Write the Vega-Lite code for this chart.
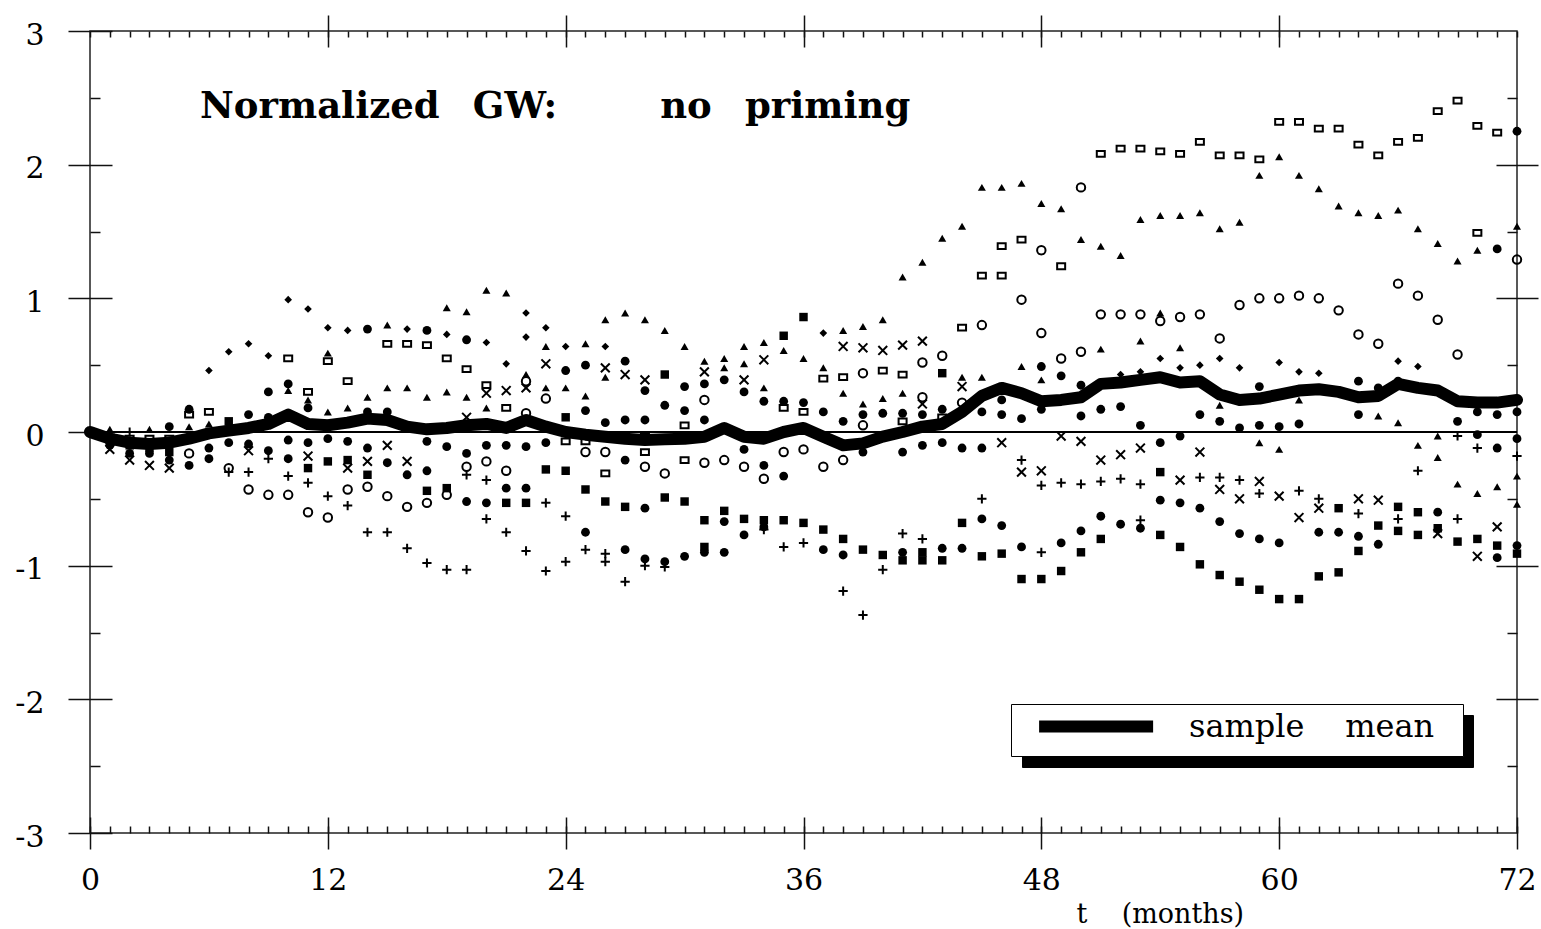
{
"$schema":"https://vega.github.io/schema/vega-lite/v6.json",
"width":1427,"height":802,
"autosize":{"type":"none"},
"padding":{"left":90,"top":31,"right":24,"bottom":96},
"background":"white",
"view":{"stroke":"#222","strokeWidth":1.5},
"config":{"axis":{"grid":false,"domain":false,"tickColor":"#111","tickWidth":1.5,"labelColor":"black","labelFont":"DejaVu Serif","labelFontSize":30,"titleFont":"DejaVu Serif","titleColor":"black","labelFlush":false,"labelOverlap":false,"labelBound":false}},
"title":{"text":"Normalized\u00a0\u00a0\u2009GW:\u00a0\u00a0\u00a0\u00a0\u00a0\u00a0\u00a0\u00a0no\u00a0\u00a0\u2009priming","anchor":"start","frame":"group","font":"DejaVu Serif","fontWeight":"bold","fontSize":37,"color":"black","dx":110,"offset":-141,"baseline":"alphabetic"},
"datasets":{
"mean":[{"t":0,"v":0,"series":"sample mean"},{"t":1,"v":-0.05,"series":"sample mean"},{"t":2,"v":-0.08,"series":"sample mean"},{"t":3,"v":-0.09,"series":"sample mean"},{"t":4,"v":-0.08,"series":"sample mean"},{"t":5,"v":-0.05,"series":"sample mean"},{"t":6,"v":-0.01,"series":"sample mean"},{"t":7,"v":0.01,"series":"sample mean"},{"t":8,"v":0.03,"series":"sample mean"},{"t":9,"v":0.06,"series":"sample mean"},{"t":10,"v":0.13,"series":"sample mean"},{"t":11,"v":0.06,"series":"sample mean"},{"t":12,"v":0.05,"series":"sample mean"},{"t":13,"v":0.07,"series":"sample mean"},{"t":14,"v":0.1,"series":"sample mean"},{"t":15,"v":0.09,"series":"sample mean"},{"t":16,"v":0.04,"series":"sample mean"},{"t":17,"v":0.02,"series":"sample mean"},{"t":18,"v":0.03,"series":"sample mean"},{"t":19,"v":0.05,"series":"sample mean"},{"t":20,"v":0.06,"series":"sample mean"},{"t":21,"v":0.03,"series":"sample mean"},{"t":22,"v":0.09,"series":"sample mean"},{"t":23,"v":0.04,"series":"sample mean"},{"t":24,"v":0.0,"series":"sample mean"},{"t":25,"v":-0.02,"series":"sample mean"},{"t":26,"v":-0.035,"series":"sample mean"},{"t":27,"v":-0.05,"series":"sample mean"},{"t":28,"v":-0.06,"series":"sample mean"},{"t":29,"v":-0.055,"series":"sample mean"},{"t":30,"v":-0.05,"series":"sample mean"},{"t":31,"v":-0.035,"series":"sample mean"},{"t":32,"v":0.03,"series":"sample mean"},{"t":33,"v":-0.035,"series":"sample mean"},{"t":34,"v":-0.05,"series":"sample mean"},{"t":35,"v":0.0,"series":"sample mean"},{"t":36,"v":0.03,"series":"sample mean"},{"t":37,"v":-0.035,"series":"sample mean"},{"t":38,"v":-0.1,"series":"sample mean"},{"t":39,"v":-0.085,"series":"sample mean"},{"t":40,"v":-0.035,"series":"sample mean"},{"t":41,"v":0.0,"series":"sample mean"},{"t":42,"v":0.04,"series":"sample mean"},{"t":43,"v":0.06,"series":"sample mean"},{"t":44,"v":0.15,"series":"sample mean"},{"t":45,"v":0.27,"series":"sample mean"},{"t":46,"v":0.33,"series":"sample mean"},{"t":47,"v":0.29,"series":"sample mean"},{"t":48,"v":0.23,"series":"sample mean"},{"t":49,"v":0.24,"series":"sample mean"},{"t":50,"v":0.26,"series":"sample mean"},{"t":51,"v":0.36,"series":"sample mean"},{"t":52,"v":0.37,"series":"sample mean"},{"t":53,"v":0.39,"series":"sample mean"},{"t":54,"v":0.41,"series":"sample mean"},{"t":55,"v":0.37,"series":"sample mean"},{"t":56,"v":0.38,"series":"sample mean"},{"t":57,"v":0.28,"series":"sample mean"},{"t":58,"v":0.24,"series":"sample mean"},{"t":59,"v":0.25,"series":"sample mean"},{"t":60,"v":0.28,"series":"sample mean"},{"t":61,"v":0.31,"series":"sample mean"},{"t":62,"v":0.32,"series":"sample mean"},{"t":63,"v":0.3,"series":"sample mean"},{"t":64,"v":0.26,"series":"sample mean"},{"t":65,"v":0.27,"series":"sample mean"},{"t":66,"v":0.36,"series":"sample mean"},{"t":67,"v":0.33,"series":"sample mean"},{"t":68,"v":0.31,"series":"sample mean"},{"t":69,"v":0.23,"series":"sample mean"},{"t":70,"v":0.22,"series":"sample mean"},{"t":71,"v":0.22,"series":"sample mean"},{"t":72,"v":0.24,"series":"sample mean"}],
"zero":[{"t":0,"v":0,"series":"zero"},{"t":72,"v":0,"series":"zero"}],
"pts":[
{"t":1,"v":-0.04,"s":"sq"},{"t":1,"v":-0.1,"s":"do"},{"t":1,"v":-0.13,"s":"x"},{"t":1,"v":0.02,"s":"tr"},{"t":1,"v":-0.08,"s":"pl"},
{"t":2,"v":-0.05,"s":"sq"},{"t":2,"v":-0.16,"s":"do"},{"t":2,"v":-0.21,"s":"x"},{"t":2,"v":0.0,"s":"pl"},{"t":2,"v":-0.1,"s":"fs"},
{"t":3,"v":-0.05,"s":"sq"},{"t":3,"v":-0.16,"s":"do"},{"t":3,"v":-0.25,"s":"x"},{"t":3,"v":-0.12,"s":"fs"},{"t":3,"v":0.02,"s":"tr"},
{"t":4,"v":0.04,"s":"do"},{"t":4,"v":-0.05,"s":"sq"},{"t":4,"v":-0.21,"s":"do"},{"t":4,"v":-0.27,"s":"x"},{"t":4,"v":-0.15,"s":"fs"},
{"t":5,"v":0.17,"s":"do"},{"t":5,"v":0.13,"s":"sq"},{"t":5,"v":0.04,"s":"tr"},{"t":5,"v":-0.16,"s":"ci"},{"t":5,"v":-0.25,"s":"do"},
{"t":6,"v":0.46,"s":"di"},{"t":6,"v":0.15,"s":"sq"},{"t":6,"v":0.06,"s":"tr"},{"t":6,"v":-0.12,"s":"do"},{"t":6,"v":-0.2,"s":"do"},
{"t":7,"v":0.6,"s":"di"},{"t":7,"v":0.08,"s":"fs"},{"t":7,"v":-0.08,"s":"do"},{"t":7,"v":-0.27,"s":"ci"},{"t":7,"v":-0.3,"s":"pl"},
{"t":8,"v":0.66,"s":"di"},{"t":8,"v":0.13,"s":"do"},{"t":8,"v":-0.09,"s":"do"},{"t":8,"v":-0.14,"s":"x"},{"t":8,"v":-0.3,"s":"pl"},{"t":8,"v":-0.43,"s":"ci"},
{"t":9,"v":0.57,"s":"di"},{"t":9,"v":0.3,"s":"do"},{"t":9,"v":0.11,"s":"do"},{"t":9,"v":-0.14,"s":"do"},{"t":9,"v":-0.2,"s":"pl"},{"t":9,"v":-0.47,"s":"ci"},
{"t":10,"v":0.99,"s":"di"},{"t":10,"v":0.55,"s":"sq"},{"t":10,"v":0.36,"s":"do"},{"t":10,"v":0.31,"s":"tr"},{"t":10,"v":-0.06,"s":"do"},{"t":10,"v":-0.2,"s":"do"},{"t":10,"v":-0.33,"s":"pl"},{"t":10,"v":-0.47,"s":"ci"},
{"t":11,"v":0.92,"s":"di"},{"t":11,"v":0.3,"s":"sq"},{"t":11,"v":0.24,"s":"tr"},{"t":11,"v":0.18,"s":"do"},{"t":11,"v":-0.08,"s":"do"},{"t":11,"v":-0.18,"s":"x"},{"t":11,"v":-0.27,"s":"fs"},{"t":11,"v":-0.38,"s":"pl"},{"t":11,"v":-0.6,"s":"ci"},
{"t":12,"v":0.78,"s":"di"},{"t":12,"v":0.59,"s":"tr"},{"t":12,"v":0.53,"s":"sq"},{"t":12,"v":0.15,"s":"tr"},{"t":12,"v":-0.05,"s":"do"},{"t":12,"v":-0.22,"s":"fs"},{"t":12,"v":-0.48,"s":"pl"},{"t":12,"v":-0.64,"s":"ci"},
{"t":13,"v":0.76,"s":"di"},{"t":13,"v":0.38,"s":"sq"},{"t":13,"v":0.18,"s":"tr"},{"t":13,"v":-0.07,"s":"do"},{"t":13,"v":-0.21,"s":"fs"},{"t":13,"v":-0.27,"s":"x"},{"t":13,"v":-0.43,"s":"ci"},{"t":13,"v":-0.55,"s":"pl"},
{"t":14,"v":0.77,"s":"do"},{"t":14,"v":0.26,"s":"tr"},{"t":14,"v":0.15,"s":"do"},{"t":14,"v":-0.12,"s":"do"},{"t":14,"v":-0.22,"s":"x"},{"t":14,"v":-0.32,"s":"fs"},{"t":14,"v":-0.41,"s":"ci"},{"t":14,"v":-0.75,"s":"pl"},
{"t":15,"v":0.8,"s":"tr"},{"t":15,"v":0.66,"s":"sq"},{"t":15,"v":0.33,"s":"tr"},{"t":15,"v":0.15,"s":"do"},{"t":15,"v":-0.1,"s":"x"},{"t":15,"v":-0.23,"s":"do"},{"t":15,"v":-0.48,"s":"ci"},{"t":15,"v":-0.75,"s":"pl"},
{"t":16,"v":0.77,"s":"di"},{"t":16,"v":0.66,"s":"sq"},{"t":16,"v":0.33,"s":"tr"},{"t":16,"v":0.05,"s":"do"},{"t":16,"v":-0.22,"s":"x"},{"t":16,"v":-0.32,"s":"do"},{"t":16,"v":-0.56,"s":"ci"},{"t":16,"v":-0.87,"s":"pl"},
{"t":17,"v":0.76,"s":"do"},{"t":17,"v":0.65,"s":"sq"},{"t":17,"v":0.26,"s":"tr"},{"t":17,"v":-0.07,"s":"do"},{"t":17,"v":-0.29,"s":"do"},{"t":17,"v":-0.44,"s":"fs"},{"t":17,"v":-0.53,"s":"ci"},{"t":17,"v":-0.98,"s":"pl"},
{"t":18,"v":0.93,"s":"tr"},{"t":18,"v":0.73,"s":"di"},{"t":18,"v":0.55,"s":"sq"},{"t":18,"v":0.3,"s":"tr"},{"t":18,"v":-0.11,"s":"do"},{"t":18,"v":-0.42,"s":"fs"},{"t":18,"v":-0.47,"s":"ci"},{"t":18,"v":-1.03,"s":"pl"},
{"t":19,"v":0.9,"s":"tr"},{"t":19,"v":0.69,"s":"do"},{"t":19,"v":0.47,"s":"sq"},{"t":19,"v":0.26,"s":"tr"},{"t":19,"v":0.11,"s":"x"},{"t":19,"v":-0.16,"s":"do"},{"t":19,"v":-0.26,"s":"ci"},{"t":19,"v":-0.32,"s":"pl"},{"t":19,"v":-0.52,"s":"do"},{"t":19,"v":-1.03,"s":"pl"},
{"t":20,"v":1.06,"s":"tr"},{"t":20,"v":0.67,"s":"di"},{"t":20,"v":0.35,"s":"sq"},{"t":20,"v":0.29,"s":"x"},{"t":20,"v":0.18,"s":"tr"},{"t":20,"v":-0.1,"s":"do"},{"t":20,"v":-0.22,"s":"ci"},{"t":20,"v":-0.36,"s":"pl"},{"t":20,"v":-0.53,"s":"do"},{"t":20,"v":-0.65,"s":"pl"},
{"t":21,"v":1.04,"s":"tr"},{"t":21,"v":0.51,"s":"di"},{"t":21,"v":0.31,"s":"x"},{"t":21,"v":0.18,"s":"sq"},{"t":21,"v":-0.1,"s":"do"},{"t":21,"v":-0.29,"s":"ci"},{"t":21,"v":-0.42,"s":"do"},{"t":21,"v":-0.53,"s":"fs"},{"t":21,"v":-0.75,"s":"pl"},
{"t":22,"v":0.89,"s":"di"},{"t":22,"v":0.71,"s":"di"},{"t":22,"v":0.43,"s":"tr"},{"t":22,"v":0.38,"s":"ci"},{"t":22,"v":0.33,"s":"x"},{"t":22,"v":0.14,"s":"ci"},{"t":22,"v":-0.11,"s":"do"},{"t":22,"v":-0.42,"s":"do"},{"t":22,"v":-0.53,"s":"fs"},{"t":22,"v":-0.89,"s":"pl"},
{"t":23,"v":0.78,"s":"di"},{"t":23,"v":0.64,"s":"tr"},{"t":23,"v":0.51,"s":"x"},{"t":23,"v":0.33,"s":"tr"},{"t":23,"v":0.25,"s":"ci"},{"t":23,"v":-0.08,"s":"do"},{"t":23,"v":-0.28,"s":"fs"},{"t":23,"v":-0.53,"s":"pl"},{"t":23,"v":-1.04,"s":"pl"},
{"t":24,"v":0.64,"s":"di"},{"t":24,"v":0.46,"s":"do"},{"t":24,"v":0.33,"s":"tr"},{"t":24,"v":0.11,"s":"fs"},{"t":24,"v":-0.07,"s":"sq"},{"t":24,"v":-0.29,"s":"fs"},{"t":24,"v":-0.63,"s":"pl"},{"t":24,"v":-0.97,"s":"pl"},
{"t":25,"v":0.66,"s":"tr"},{"t":25,"v":0.5,"s":"do"},{"t":25,"v":0.27,"s":"tr"},{"t":25,"v":0.16,"s":"do"},{"t":25,"v":-0.07,"s":"sq"},{"t":25,"v":-0.15,"s":"ci"},{"t":25,"v":-0.43,"s":"fs"},{"t":25,"v":-0.75,"s":"do"},{"t":25,"v":-0.88,"s":"pl"},
{"t":26,"v":0.84,"s":"tr"},{"t":26,"v":0.64,"s":"di"},{"t":26,"v":0.48,"s":"x"},{"t":26,"v":0.41,"s":"tr"},{"t":26,"v":0.07,"s":"do"},{"t":26,"v":-0.15,"s":"ci"},{"t":26,"v":-0.31,"s":"sq"},{"t":26,"v":-0.52,"s":"fs"},{"t":26,"v":-0.91,"s":"pl"},{"t":26,"v":-0.97,"s":"pl"},
{"t":27,"v":0.89,"s":"tr"},{"t":27,"v":0.53,"s":"do"},{"t":27,"v":0.43,"s":"x"},{"t":27,"v":0.09,"s":"do"},{"t":27,"v":-0.21,"s":"do"},{"t":27,"v":-0.56,"s":"fs"},{"t":27,"v":-0.88,"s":"do"},{"t":27,"v":-1.12,"s":"pl"},
{"t":28,"v":0.84,"s":"tr"},{"t":28,"v":0.39,"s":"x"},{"t":28,"v":0.31,"s":"do"},{"t":28,"v":0.09,"s":"do"},{"t":28,"v":-0.03,"s":"sq"},{"t":28,"v":-0.15,"s":"sq"},{"t":28,"v":-0.26,"s":"ci"},{"t":28,"v":-0.57,"s":"do"},{"t":28,"v":-0.95,"s":"do"},{"t":28,"v":-1.0,"s":"pl"},
{"t":29,"v":0.76,"s":"tr"},{"t":29,"v":0.43,"s":"fs"},{"t":29,"v":0.2,"s":"do"},{"t":29,"v":-0.31,"s":"ci"},{"t":29,"v":-0.49,"s":"fs"},{"t":29,"v":-0.97,"s":"do"},{"t":29,"v":-1.01,"s":"pl"},
{"t":30,"v":0.64,"s":"tr"},{"t":30,"v":0.34,"s":"do"},{"t":30,"v":0.16,"s":"do"},{"t":30,"v":0.05,"s":"sq"},{"t":30,"v":-0.21,"s":"sq"},{"t":30,"v":-0.52,"s":"fs"},{"t":30,"v":-0.93,"s":"do"},
{"t":31,"v":0.53,"s":"tr"},{"t":31,"v":0.45,"s":"x"},{"t":31,"v":0.36,"s":"do"},{"t":31,"v":0.24,"s":"ci"},{"t":31,"v":0.09,"s":"do"},{"t":31,"v":-0.23,"s":"ci"},{"t":31,"v":-0.66,"s":"fs"},{"t":31,"v":-0.86,"s":"fs"},{"t":31,"v":-0.9,"s":"do"},
{"t":32,"v":0.55,"s":"tr"},{"t":32,"v":0.48,"s":"tr"},{"t":32,"v":0.39,"s":"do"},{"t":32,"v":-0.21,"s":"ci"},{"t":32,"v":-0.59,"s":"fs"},{"t":32,"v":-0.67,"s":"do"},{"t":32,"v":-0.9,"s":"do"},
{"t":33,"v":0.64,"s":"tr"},{"t":33,"v":0.51,"s":"tr"},{"t":33,"v":0.39,"s":"x"},{"t":33,"v":0.3,"s":"do"},{"t":33,"v":-0.13,"s":"do"},{"t":33,"v":-0.26,"s":"ci"},{"t":33,"v":-0.65,"s":"fs"},{"t":33,"v":-0.77,"s":"do"},
{"t":34,"v":0.67,"s":"tr"},{"t":34,"v":0.54,"s":"x"},{"t":34,"v":0.33,"s":"tr"},{"t":34,"v":0.23,"s":"do"},{"t":34,"v":-0.25,"s":"do"},{"t":34,"v":-0.35,"s":"ci"},{"t":34,"v":-0.66,"s":"fs"},{"t":34,"v":-0.71,"s":"do"},{"t":34,"v":-0.73,"s":"pl"},
{"t":35,"v":0.72,"s":"fs"},{"t":35,"v":0.61,"s":"tr"},{"t":35,"v":0.23,"s":"do"},{"t":35,"v":0.18,"s":"sq"},{"t":35,"v":-0.15,"s":"ci"},{"t":35,"v":-0.33,"s":"do"},{"t":35,"v":-0.66,"s":"fs"},{"t":35,"v":-0.86,"s":"pl"},
{"t":36,"v":0.86,"s":"fs"},{"t":36,"v":0.55,"s":"tr"},{"t":36,"v":0.22,"s":"do"},{"t":36,"v":0.15,"s":"sq"},{"t":36,"v":-0.13,"s":"ci"},{"t":36,"v":-0.68,"s":"fs"},{"t":36,"v":-0.83,"s":"pl"},
{"t":37,"v":0.74,"s":"di"},{"t":37,"v":0.48,"s":"tr"},{"t":37,"v":0.4,"s":"sq"},{"t":37,"v":0.15,"s":"do"},{"t":37,"v":-0.26,"s":"ci"},{"t":37,"v":-0.73,"s":"fs"},{"t":37,"v":-0.88,"s":"do"},
{"t":38,"v":0.76,"s":"tr"},{"t":38,"v":0.64,"s":"x"},{"t":38,"v":0.41,"s":"sq"},{"t":38,"v":0.29,"s":"tr"},{"t":38,"v":0.08,"s":"do"},{"t":38,"v":-0.21,"s":"ci"},{"t":38,"v":-0.8,"s":"fs"},{"t":38,"v":-0.92,"s":"do"},{"t":38,"v":-1.19,"s":"pl"},
{"t":39,"v":0.79,"s":"tr"},{"t":39,"v":0.63,"s":"x"},{"t":39,"v":0.44,"s":"ci"},{"t":39,"v":0.21,"s":"tr"},{"t":39,"v":0.13,"s":"do"},{"t":39,"v":0.05,"s":"ci"},{"t":39,"v":-0.15,"s":"do"},{"t":39,"v":-0.88,"s":"fs"},{"t":39,"v":-1.37,"s":"pl"},
{"t":40,"v":0.84,"s":"tr"},{"t":40,"v":0.61,"s":"x"},{"t":40,"v":0.46,"s":"sq"},{"t":40,"v":0.25,"s":"tr"},{"t":40,"v":0.14,"s":"do"},{"t":40,"v":-0.92,"s":"fs"},{"t":40,"v":-1.03,"s":"pl"},
{"t":41,"v":1.16,"s":"tr"},{"t":41,"v":0.65,"s":"x"},{"t":41,"v":0.43,"s":"sq"},{"t":41,"v":0.29,"s":"tr"},{"t":41,"v":0.14,"s":"do"},{"t":41,"v":0.08,"s":"sq"},{"t":41,"v":-0.15,"s":"do"},{"t":41,"v":-0.76,"s":"pl"},{"t":41,"v":-0.9,"s":"do"},{"t":41,"v":-0.96,"s":"fs"},
{"t":42,"v":1.27,"s":"tr"},{"t":42,"v":0.68,"s":"x"},{"t":42,"v":0.52,"s":"ci"},{"t":42,"v":0.26,"s":"ci"},{"t":42,"v":0.21,"s":"x"},{"t":42,"v":0.13,"s":"do"},{"t":42,"v":-0.1,"s":"do"},{"t":42,"v":-0.8,"s":"pl"},{"t":42,"v":-0.9,"s":"fs"},{"t":42,"v":-0.96,"s":"fs"},
{"t":43,"v":1.45,"s":"tr"},{"t":43,"v":0.57,"s":"ci"},{"t":43,"v":0.44,"s":"fs"},{"t":43,"v":0.17,"s":"do"},{"t":43,"v":0.11,"s":"sq"},{"t":43,"v":-0.08,"s":"do"},{"t":43,"v":-0.87,"s":"do"},{"t":43,"v":-0.96,"s":"fs"},
{"t":44,"v":1.54,"s":"tr"},{"t":44,"v":0.78,"s":"sq"},{"t":44,"v":0.41,"s":"tr"},{"t":44,"v":0.34,"s":"x"},{"t":44,"v":0.22,"s":"ci"},{"t":44,"v":-0.12,"s":"do"},{"t":44,"v":-0.68,"s":"fs"},{"t":44,"v":-0.87,"s":"do"},
{"t":45,"v":1.83,"s":"tr"},{"t":45,"v":1.17,"s":"sq"},{"t":45,"v":0.8,"s":"ci"},{"t":45,"v":0.41,"s":"tr"},{"t":45,"v":0.15,"s":"do"},{"t":45,"v":-0.12,"s":"do"},{"t":45,"v":-0.5,"s":"pl"},{"t":45,"v":-0.65,"s":"do"},{"t":45,"v":-0.93,"s":"fs"},
{"t":46,"v":1.83,"s":"tr"},{"t":46,"v":1.39,"s":"sq"},{"t":46,"v":1.17,"s":"sq"},{"t":46,"v":0.24,"s":"do"},{"t":46,"v":0.13,"s":"do"},{"t":46,"v":-0.08,"s":"x"},{"t":46,"v":-0.7,"s":"do"},{"t":46,"v":-0.91,"s":"fs"},
{"t":47,"v":1.86,"s":"tr"},{"t":47,"v":1.44,"s":"sq"},{"t":47,"v":0.99,"s":"ci"},{"t":47,"v":0.49,"s":"tr"},{"t":47,"v":0.1,"s":"do"},{"t":47,"v":-0.21,"s":"pl"},{"t":47,"v":-0.3,"s":"x"},{"t":47,"v":-0.86,"s":"do"},{"t":47,"v":-1.1,"s":"fs"},
{"t":48,"v":1.71,"s":"tr"},{"t":48,"v":1.36,"s":"ci"},{"t":48,"v":0.74,"s":"ci"},{"t":48,"v":0.49,"s":"do"},{"t":48,"v":0.39,"s":"tr"},{"t":48,"v":0.17,"s":"do"},{"t":48,"v":-0.29,"s":"x"},{"t":48,"v":-0.4,"s":"pl"},{"t":48,"v":-0.9,"s":"pl"},{"t":48,"v":-1.1,"s":"fs"},
{"t":49,"v":1.67,"s":"tr"},{"t":49,"v":1.24,"s":"sq"},{"t":49,"v":0.55,"s":"ci"},{"t":49,"v":0.42,"s":"do"},{"t":49,"v":-0.03,"s":"x"},{"t":49,"v":-0.38,"s":"pl"},{"t":49,"v":-0.83,"s":"do"},{"t":49,"v":-1.04,"s":"fs"},
{"t":50,"v":1.83,"s":"ci"},{"t":50,"v":1.44,"s":"tr"},{"t":50,"v":0.6,"s":"ci"},{"t":50,"v":0.35,"s":"do"},{"t":50,"v":0.12,"s":"do"},{"t":50,"v":-0.07,"s":"x"},{"t":50,"v":-0.39,"s":"pl"},{"t":50,"v":-0.74,"s":"do"},{"t":50,"v":-0.9,"s":"fs"},
{"t":51,"v":2.08,"s":"sq"},{"t":51,"v":1.39,"s":"tr"},{"t":51,"v":0.88,"s":"ci"},{"t":51,"v":0.62,"s":"tr"},{"t":51,"v":0.17,"s":"do"},{"t":51,"v":-0.21,"s":"x"},{"t":51,"v":-0.37,"s":"pl"},{"t":51,"v":-0.63,"s":"do"},{"t":51,"v":-0.8,"s":"fs"},
{"t":52,"v":2.12,"s":"sq"},{"t":52,"v":1.32,"s":"tr"},{"t":52,"v":0.88,"s":"ci"},{"t":52,"v":0.43,"s":"di"},{"t":52,"v":0.19,"s":"do"},{"t":52,"v":-0.17,"s":"x"},{"t":52,"v":-0.35,"s":"pl"},{"t":52,"v":-0.69,"s":"do"},
{"t":53,"v":2.12,"s":"sq"},{"t":53,"v":1.59,"s":"tr"},{"t":53,"v":0.88,"s":"ci"},{"t":53,"v":0.68,"s":"tr"},{"t":53,"v":0.45,"s":"di"},{"t":53,"v":0.05,"s":"do"},{"t":53,"v":-0.12,"s":"x"},{"t":53,"v":-0.39,"s":"pl"},{"t":53,"v":-0.66,"s":"pl"},{"t":53,"v":-0.72,"s":"do"},
{"t":54,"v":2.1,"s":"sq"},{"t":54,"v":1.62,"s":"tr"},{"t":54,"v":0.89,"s":"tr"},{"t":54,"v":0.83,"s":"ci"},{"t":54,"v":0.55,"s":"di"},{"t":54,"v":-0.08,"s":"do"},{"t":54,"v":-0.3,"s":"fs"},{"t":54,"v":-0.51,"s":"do"},{"t":54,"v":-0.77,"s":"fs"},
{"t":55,"v":2.08,"s":"sq"},{"t":55,"v":1.62,"s":"tr"},{"t":55,"v":0.86,"s":"ci"},{"t":55,"v":0.63,"s":"tr"},{"t":55,"v":0.48,"s":"di"},{"t":55,"v":-0.03,"s":"do"},{"t":55,"v":-0.36,"s":"x"},{"t":55,"v":-0.53,"s":"do"},{"t":55,"v":-0.86,"s":"fs"},
{"t":56,"v":2.17,"s":"sq"},{"t":56,"v":1.64,"s":"tr"},{"t":56,"v":0.88,"s":"ci"},{"t":56,"v":0.5,"s":"di"},{"t":56,"v":0.13,"s":"do"},{"t":56,"v":-0.15,"s":"x"},{"t":56,"v":-0.34,"s":"pl"},{"t":56,"v":-0.57,"s":"do"},{"t":56,"v":-0.99,"s":"fs"},
{"t":57,"v":2.07,"s":"sq"},{"t":57,"v":1.52,"s":"tr"},{"t":57,"v":0.7,"s":"ci"},{"t":57,"v":0.55,"s":"di"},{"t":57,"v":0.2,"s":"tr"},{"t":57,"v":0.08,"s":"do"},{"t":57,"v":-0.34,"s":"pl"},{"t":57,"v":-0.43,"s":"x"},{"t":57,"v":-0.67,"s":"do"},{"t":57,"v":-1.07,"s":"fs"},
{"t":58,"v":2.07,"s":"sq"},{"t":58,"v":1.57,"s":"tr"},{"t":58,"v":0.95,"s":"ci"},{"t":58,"v":0.48,"s":"di"},{"t":58,"v":0.03,"s":"do"},{"t":58,"v":-0.36,"s":"pl"},{"t":58,"v":-0.5,"s":"x"},{"t":58,"v":-0.76,"s":"do"},{"t":58,"v":-1.12,"s":"fs"},
{"t":59,"v":2.04,"s":"sq"},{"t":59,"v":1.92,"s":"tr"},{"t":59,"v":1.0,"s":"ci"},{"t":59,"v":0.34,"s":"do"},{"t":59,"v":0.05,"s":"do"},{"t":59,"v":-0.08,"s":"tr"},{"t":59,"v":-0.37,"s":"x"},{"t":59,"v":-0.46,"s":"pl"},{"t":59,"v":-0.8,"s":"do"},{"t":59,"v":-1.18,"s":"fs"},
{"t":60,"v":2.32,"s":"sq"},{"t":60,"v":2.06,"s":"tr"},{"t":60,"v":1.0,"s":"ci"},{"t":60,"v":0.52,"s":"di"},{"t":60,"v":0.04,"s":"do"},{"t":60,"v":-0.13,"s":"tr"},{"t":60,"v":-0.48,"s":"x"},{"t":60,"v":-0.83,"s":"do"},{"t":60,"v":-1.25,"s":"fs"},
{"t":61,"v":2.32,"s":"sq"},{"t":61,"v":1.92,"s":"tr"},{"t":61,"v":1.02,"s":"ci"},{"t":61,"v":0.45,"s":"di"},{"t":61,"v":0.24,"s":"tr"},{"t":61,"v":0.06,"s":"do"},{"t":61,"v":-0.44,"s":"pl"},{"t":61,"v":-0.64,"s":"x"},{"t":61,"v":-1.25,"s":"fs"},
{"t":62,"v":2.27,"s":"sq"},{"t":62,"v":1.82,"s":"tr"},{"t":62,"v":1.0,"s":"ci"},{"t":62,"v":0.44,"s":"di"},{"t":62,"v":-0.5,"s":"pl"},{"t":62,"v":-0.57,"s":"x"},{"t":62,"v":-0.75,"s":"do"},{"t":62,"v":-1.08,"s":"fs"},
{"t":63,"v":2.27,"s":"sq"},{"t":63,"v":1.69,"s":"tr"},{"t":63,"v":0.91,"s":"ci"},{"t":63,"v":0.3,"s":"do"},{"t":63,"v":-0.57,"s":"fs"},{"t":63,"v":-0.75,"s":"do"},{"t":63,"v":-1.05,"s":"fs"},
{"t":64,"v":2.15,"s":"sq"},{"t":64,"v":1.64,"s":"tr"},{"t":64,"v":0.73,"s":"ci"},{"t":64,"v":0.38,"s":"do"},{"t":64,"v":0.13,"s":"do"},{"t":64,"v":-0.5,"s":"x"},{"t":64,"v":-0.61,"s":"pl"},{"t":64,"v":-0.78,"s":"do"},{"t":64,"v":-0.89,"s":"fs"},
{"t":65,"v":2.07,"s":"sq"},{"t":65,"v":1.62,"s":"tr"},{"t":65,"v":0.66,"s":"ci"},{"t":65,"v":0.33,"s":"do"},{"t":65,"v":0.12,"s":"tr"},{"t":65,"v":-0.51,"s":"x"},{"t":65,"v":-0.7,"s":"fs"},{"t":65,"v":-0.84,"s":"do"},
{"t":66,"v":2.17,"s":"sq"},{"t":66,"v":1.66,"s":"tr"},{"t":66,"v":1.11,"s":"ci"},{"t":66,"v":0.53,"s":"di"},{"t":66,"v":0.38,"s":"do"},{"t":66,"v":0.07,"s":"tr"},{"t":66,"v":-0.56,"s":"fs"},{"t":66,"v":-0.65,"s":"pl"},{"t":66,"v":-0.74,"s":"fs"},
{"t":67,"v":2.2,"s":"sq"},{"t":67,"v":1.52,"s":"tr"},{"t":67,"v":1.02,"s":"ci"},{"t":67,"v":0.49,"s":"di"},{"t":67,"v":-0.1,"s":"tr"},{"t":67,"v":-0.29,"s":"pl"},{"t":67,"v":-0.6,"s":"fs"},{"t":67,"v":-0.77,"s":"fs"},
{"t":68,"v":2.4,"s":"sq"},{"t":68,"v":1.41,"s":"tr"},{"t":68,"v":0.84,"s":"ci"},{"t":68,"v":-0.03,"s":"tr"},{"t":68,"v":-0.19,"s":"tr"},{"t":68,"v":-0.6,"s":"do"},{"t":68,"v":-0.72,"s":"fs"},{"t":68,"v":-0.76,"s":"x"},
{"t":69,"v":2.48,"s":"sq"},{"t":69,"v":1.28,"s":"tr"},{"t":69,"v":0.58,"s":"ci"},{"t":69,"v":0.08,"s":"do"},{"t":69,"v":-0.03,"s":"pl"},{"t":69,"v":-0.39,"s":"tr"},{"t":69,"v":-0.65,"s":"pl"},{"t":69,"v":-0.82,"s":"fs"},
{"t":70,"v":2.29,"s":"sq"},{"t":70,"v":1.49,"s":"sq"},{"t":70,"v":1.36,"s":"tr"},{"t":70,"v":0.15,"s":"do"},{"t":70,"v":-0.02,"s":"do"},{"t":70,"v":-0.12,"s":"pl"},{"t":70,"v":-0.46,"s":"tr"},{"t":70,"v":-0.8,"s":"fs"},{"t":70,"v":-0.93,"s":"x"},
{"t":71,"v":2.24,"s":"sq"},{"t":71,"v":1.37,"s":"do"},{"t":71,"v":0.13,"s":"do"},{"t":71,"v":-0.12,"s":"do"},{"t":71,"v":-0.41,"s":"tr"},{"t":71,"v":-0.71,"s":"x"},{"t":71,"v":-0.85,"s":"fs"},{"t":71,"v":-0.94,"s":"do"},
{"t":72,"v":2.25,"s":"do"},{"t":72,"v":1.54,"s":"tr"},{"t":72,"v":1.29,"s":"ci"},{"t":72,"v":0.15,"s":"do"},{"t":72,"v":-0.05,"s":"do"},{"t":72,"v":-0.18,"s":"pl"},{"t":72,"v":-0.33,"s":"tr"},{"t":72,"v":-0.54,"s":"tr"},{"t":72,"v":-0.85,"s":"do"},{"t":72,"v":-0.91,"s":"fs"}
]},
"layer":[
{"data":{"name":"zero"},"mark":{"type":"line","strokeWidth":2.2},
 "encoding":{
  "x":{"field":"t","type":"quantitative","scale":{"domain":[0,72],"nice":false,"zero":false},"axis":{"orient":"top","values":[0,1,2,3,4,5,6,7,8,9,10,11,12,13,14,15,16,17,18,19,20,21,22,23,24,25,26,27,28,29,30,31,32,33,34,35,36,37,38,39,40,41,42,43,44,45,46,47,48,49,50,51,52,53,54,55,56,57,58,59,60,61,62,63,64,65,66,67,68,69,70,71,72],"tickSize":-6,"labels":false,"title":null}},
  "y":{"field":"v","type":"quantitative","scale":{"domain":[-3,3],"nice":false,"zero":false},"axis":{"orient":"right","values":[-2.5,-1.5,-0.5,0.5,1.5,2.5],"tickSize":-10,"labels":false,"title":null}},
  "stroke":{"field":"series","type":"nominal","scale":{"domain":["zero"],"range":["black"]},
   "legend":{"orient":"none","legendX":932,"legendY":684,"zindex":1,"title":null,"strokeColor":"black","fillColor":"black","padding":5,"symbolType":"M-1,0H33.5","symbolSize":520,"symbolStrokeWidth":12,"symbolStrokeColor":"black","symbolOffset":17,"labelOffset":121,"labelFont":"DejaVu Serif","labelFontSize":32,"labelColor":"black","labelLimit":600,"cornerRadius":0,"labelExpr":"''"}}}},
{"data":{"name":"pts"},"transform":[{"filter":"indexof(['sq','ci','x','pl'], datum.s) >= 0"}],
 "mark":{"type":"point","filled":false,"color":"black","strokeWidth":2,"opacity":1},
 "encoding":{
  "x":{"field":"t","type":"quantitative","scale":{"domain":[0,72],"nice":false,"zero":false},"axis":{"orient":"bottom","values":[0,12,24,36,48,60,72],"offset":-16,"tickSize":32,"labelPadding":16,"title":null}},
  "y":{"field":"v","type":"quantitative","scale":{"domain":[-3,3],"nice":false,"zero":false},"axis":{"orient":"left","values":[-3,-2,-1,0,1,2,3],"offset":-22,"tickSize":44,"labelPadding":24,"labelOffset":4,"labelExpr":"'' + datum.value","title":null}},
  "shape":{"field":"s","type":"nominal","scale":{"domain":["sq","ci","x","pl"],"range":["M-1,-0.72H1V0.72H-1Z","circle","M-1,-1L1,1M-1,1L1,-1","M-1,0H1M0,-1V1"]},"legend":null},
  "size":{"field":"s","type":"nominal","scale":{"domain":["sq","ci","x","pl"],"range":[64,85,42,48]},"legend":null}}},
{"data":{"name":"pts"},"transform":[{"filter":"indexof(['do','fs','tr','di'], datum.s) >= 0"}],
 "mark":{"type":"point","filled":true,"color":"black","opacity":1},
 "encoding":{
  "x":{"field":"t","type":"quantitative","scale":{"domain":[0,72],"nice":false,"zero":false},"axis":{"orient":"bottom","values":[0,1,2,3,4,5,6,7,8,9,10,11,12,13,14,15,16,17,18,19,20,21,22,23,24,25,26,27,28,29,30,31,32,33,34,35,36,37,38,39,40,41,42,43,44,45,46,47,48,49,50,51,52,53,54,55,56,57,58,59,60,61,62,63,64,65,66,67,68,69,70,71,72],"tickSize":-7,"labels":false,"title":"t\u00a0\u00a0\u00a0\u00a0(months)","titleFontSize":27,"titleFontWeight":"normal","titleX":986,"titleY":89,"titleAlign":"left","titleAnchor":"start","titleBaseline":"alphabetic"}},
  "y":{"field":"v","type":"quantitative","scale":{"domain":[-3,3],"nice":false,"zero":false},"axis":{"orient":"left","values":[-2.5,-1.5,-0.5,0.5,1.5,2.5],"tickSize":-10,"labels":false,"title":null}},
  "shape":{"field":"s","type":"nominal","scale":{"domain":["do","fs","tr","di"],"range":["circle","square","triangle-up","diamond"]},"legend":null},
  "size":{"field":"s","type":"nominal","scale":{"domain":["do","fs","tr","di"],"range":[78,58,78,46]},"legend":null}}},
{"data":{"name":"mean"},"mark":{"type":"line","strokeWidth":12,"strokeJoin":"round","strokeCap":"round"},
 "encoding":{
  "x":{"field":"t","type":"quantitative","scale":{"domain":[0,72],"nice":false,"zero":false},"axis":{"orient":"top","values":[12,24,36,48,60],"offset":-16,"tickSize":32,"labels":false,"title":null}},
  "y":{"field":"v","type":"quantitative","scale":{"domain":[-3,3],"nice":false,"zero":false},"axis":{"orient":"right","values":[-2,-1,1,2],"offset":-21,"tickSize":42,"labels":false,"title":null}},
  "stroke":{"field":"series","type":"nominal","scale":{"domain":["sample mean"],"range":["black"]},
   "legend":{"orient":"none","legendX":921,"legendY":673,"zindex":2,"title":null,"strokeColor":"black","fillColor":"white","padding":5,"symbolType":"M-1,0H9","symbolSize":520,"symbolStrokeWidth":12,"symbolStrokeColor":"black","symbolOffset":17,"labelOffset":121,"labelFont":"DejaVu Serif","labelFontSize":32,"labelColor":"black","labelLimit":600,"cornerRadius":0,"labelExpr":"'sample\u00a0\u00a0\u00a0\u00a0mean\u2800'"}}}}
],
"resolve":{"axis":{"x":"independent","y":"independent"},"scale":{"shape":"independent","size":"independent","stroke":"independent"},"legend":{"stroke":"independent"}}
}
